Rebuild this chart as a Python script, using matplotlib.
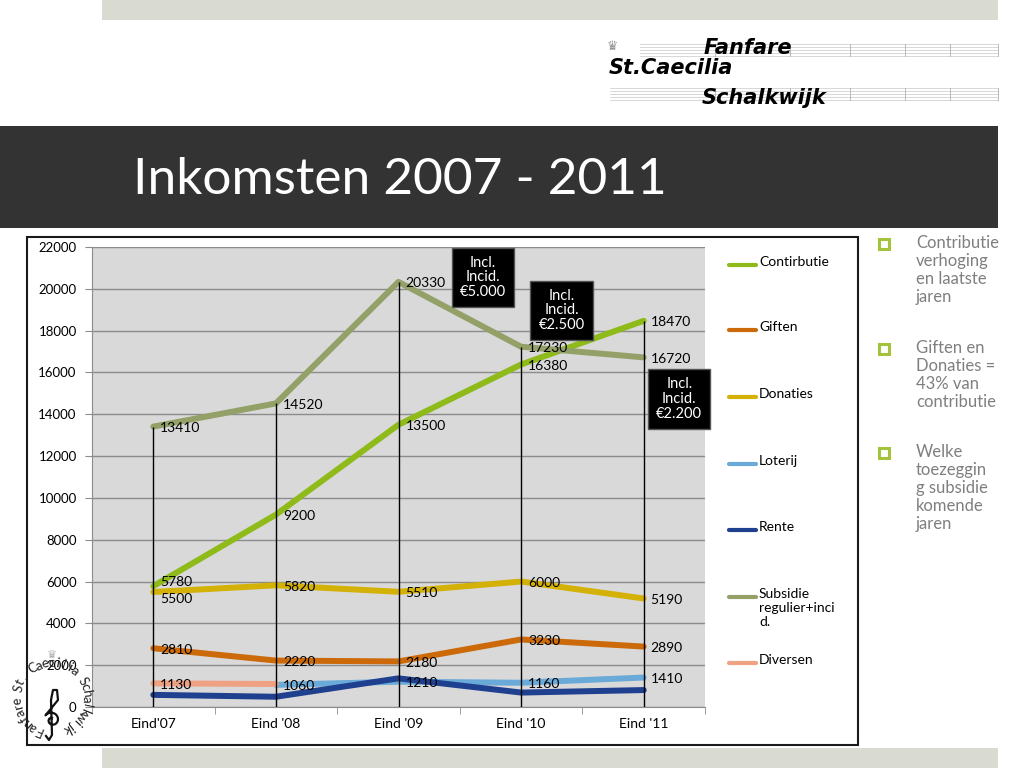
import numpy as np
import matplotlib.pyplot as plt
from matplotlib.patches import Rectangle
from matplotlib.lines import Line2D

plt.rcParams['font.family'] = ['Lato', 'DejaVu Sans']

categories = ["Eind'07", "Eind '08", "Eind '09", "Eind '10", "Eind '11"]
contirbutie = [5780, 9200, 13500, 16380, 18470]
giften = [2810, 2220, 2180, 3230, 2890]
donaties = [5500, 5820, 5510, 6000, 5190]
loterij = [np.nan, 1060, 1210, 1160, 1410]
rente = [580, 490, 1370, 690, 810]
subsidie = [13410, 14520, 20330, 17230, 16720]
diversen = [1130, 1100, np.nan, np.nan, np.nan]

series_names = ['Contirbutie', 'Giften', 'Donaties', 'Loterij', 'Rente',
                'Subsidie\nregulier+inci\nd.', 'Diversen']
series_values = [contirbutie, giften, donaties, loterij, rente, subsidie, diversen]
series_colors = ['#8EBA1A', '#CC6A0A', '#D4B106', '#6AAAD9', '#1F3F8F', '#93A067', '#EFA283']
# which points carry a value label
label_mask = [[1] * 5, [1] * 5, [1] * 5, [0, 1, 1, 1, 1], [0] * 5, [1] * 5, [1, 0, 0, 0, 0]]

callout_texts = ['Incl.\nIncid.\n€5.000', 'Incl.\nIncid.\n€2.500', 'Incl.\nIncid.\n€2.200']
callout_pos = [(2.69, 20550), (3.33, 18980), (4.29, 14730)]

bullets = ['Contributie\nverhoging\nen laatste\njaren',
           'Giften en\nDonaties =\n43% van\ncontributie',
           'Welke\ntoezeggin\ng subsidie\nkomende\njaren']


def fx(x):
    return x / 1024.0


def fy(y):
    return 1 - y / 768.0


fig = plt.figure(figsize=(10.24, 7.68), dpi=100)
fig.patch.set_facecolor('white')

# slide decoration
fig.patches.append(Rectangle((fx(102), fy(20)), fx(896), 20 / 768, transform=fig.transFigure,
                             facecolor='#D9DBD3', edgecolor='none', zorder=0))
fig.patches.append(Rectangle((0, fy(228)), fx(998), 102 / 768, transform=fig.transFigure,
                             facecolor='#333333', edgecolor='none', zorder=0))
fig.patches.append(Rectangle((fx(102), 0), fx(896), 20 / 768, transform=fig.transFigure,
                             facecolor='#D9DBD3', edgecolor='none', zorder=0))
fig.text(fx(133), fy(180), 'Inkomsten 2007 - 2011', color='white', fontsize=37,
         va='center', ha='left')

# logo top right: staff lines + name
for y0, x0 in [(44, 640), (88, 610)]:
    for k in range(5):
        fig.lines.append(Line2D([fx(x0), fx(998)], [fy(y0 + 3 * k)] * 2, transform=fig.transFigure,
                                color='#C8C8C8', lw=0.5))
    for xb in [715, 790, 850, 905, 950, 998]:
        fig.lines.append(Line2D([fx(xb)] * 2, [fy(y0), fy(y0 + 12)], transform=fig.transFigure,
                                color='#B0B0B0', lw=0.6))
fig.text(fx(612), fy(46), '\u265B', color='#909090', fontsize=9, ha='center', va='center',
         family='DejaVu Sans')
logo_font = ['Liberation Sans Narrow', 'DejaVu Sans']
fig.text(fx(704), fy(48), 'Fanfare', fontsize=15, fontweight='bold', fontstyle='italic',
         va='center', ha='left', family=logo_font)
fig.text(fx(609), fy(68), 'St.Caecilia', fontsize=15, fontweight='bold', fontstyle='italic',
         va='center', ha='left', family=logo_font)
fig.text(fx(702), fy(98), 'Schalkwijk', fontsize=15, fontweight='bold', fontstyle='italic',
         va='center', ha='left', family=logo_font)

# chart frame
fig.patches.append(Rectangle((fx(27), fy(745)), fx(831), 508 / 768, transform=fig.transFigure,
                             facecolor='white', edgecolor='#1A1A1A', lw=1.5, zorder=1))

ax = fig.add_axes([fx(92), fy(707), fx(613), 460 / 768])
ax.set_zorder(2)
ax.set_facecolor('#D9D9D9')
x = np.arange(len(categories))

for si, (vals, col, mask) in enumerate(zip(series_values, series_colors, label_mask)):
    ax.plot(x, vals, color=col, lw=4.3, solid_capstyle='round', solid_joinstyle='round', zorder=3)
    for xi, v, m in zip(x, vals, mask):
        if m and not np.isnan(v):
            dy = -1
            if xi == 0 and si == 0:
                dy = 3
            elif xi == 0 and si == 2:
                dy = -5
            ax.annotate(f'{v:.0f}', (xi, v), xytext=(5, dy), textcoords='offset points',
                        fontsize=10, va='center', ha='left', zorder=6)

# drop lines from highest series value down to the axis
max_vals = np.nanmax(np.array(series_values, dtype=float), axis=0)
ax.vlines(x, 0, max_vals, color='black', lw=1, zorder=5)

for txt, (cx, cy) in zip(callout_texts, callout_pos):
    ax.text(cx, cy, txt, color='white', fontsize=10.5, ha='center', va='center', linespacing=1.05,
            zorder=7, bbox=dict(boxstyle='square,pad=0.55', facecolor='black', edgecolor='#555555'))

ax.set_xlim(-0.5, 4.5)
ax.set_ylim(0, 22000)
ax.set_yticks(np.arange(0, 22001, 2000))
ax.yaxis.grid(True, color='#8C8C8C', lw=1)
ax.set_axisbelow(True)
ax.set_xticks(x)
ax.set_xticklabels(categories, fontsize=10)
ax.set_xticks(np.arange(-0.5, 4.6, 1), minor=True)
ax.tick_params(axis='x', which='major', length=0, pad=8)
ax.tick_params(axis='x', which='minor', length=5, color='#8C8C8C')
ax.tick_params(axis='y', length=5, color='#8C8C8C', labelsize=9.5, pad=6)
for s in ['top', 'right']:
    ax.spines[s].set_visible(False)
for s in ['left', 'bottom']:
    ax.spines[s].set_color('#8C8C8C')

# legend
leg_y = [265, 330, 397, 464, 530, 597, 663]
for name, col, ly in zip(series_names, series_colors, leg_y):
    fig.lines.append(Line2D([fx(729), fx(756)], [fy(ly)] * 2, transform=fig.transFigure,
                            color=col, lw=3, solid_capstyle='round', zorder=3))
    fig.text(fx(759), fy(ly - 9), name, fontsize=10, va='top', ha='left', linespacing=1.2, zorder=3)

# right-hand bullet text
for txt, by in zip(bullets, [244, 349, 453]):
    fig.lines.append(Line2D([fx(884)], [fy(by)], transform=fig.transFigure, marker='s', ms=7,
                            mfc='white', mec='#A3C43A', mew=2.2, ls='none'))
    fig.text(fx(916), fy(by - 9), txt, fontsize=12, color='#7F7F7F', va='top', ha='left',
             linespacing=1.15)

# round stamp bottom left
stamp = 'Fanfare St. Caecilia Schalkwijk'
cx, cy, r = 52, 698, 35
angles = np.linspace(247, -64, len(stamp))
for ch, a in zip(stamp, angles):
    t = np.deg2rad(a)
    fig.text(fx(cx + r * np.cos(t)), fy(cy - r * np.sin(t)), ch, fontsize=9.5, rotation=a - 90,
             ha='center', va='center', rotation_mode='anchor', color='#222222', zorder=4)
# treble clef (no installed font has the glyph) drawn as a stroke
tt = np.linspace(0, 2.3 * np.pi, 80)
rr = 2 + 6 * tt / (2.3 * np.pi)
clef_x = list(52 + rr * np.cos(tt + np.pi / 2))
clef_y = list(720 - rr * np.sin(tt + np.pi / 2))
clef_x += [58, 57, 53, 51, 52, 49, 46]
clef_y += [700, 690, 690, 700, 735, 740, 736]
fig.lines.append(Line2D([fx(v) for v in clef_x], [fy(v) for v in clef_y], transform=fig.transFigure,
                        color='#111111', lw=1.6, zorder=4))
fig.text(fx(52), fy(655), '\u265B', fontsize=8, color='#B0B0B0', ha='center', va='center',
         family='DejaVu Sans', zorder=4)

fig.savefig('out.png', dpi=100)
